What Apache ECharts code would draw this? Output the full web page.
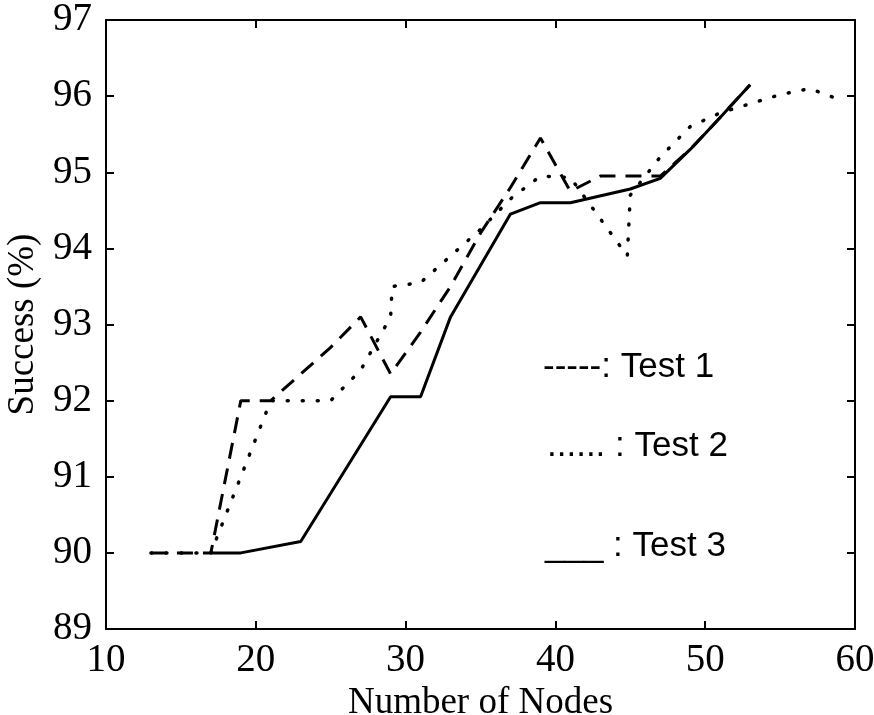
<!DOCTYPE html>
<html>
<head>
<meta charset="utf-8">
<script src="https://cdn.jsdelivr.net/npm/echarts@6/dist/echarts.min.js"></script>
<style>html,body{margin:0;padding:0;background:#fff;}#c{width:874px;height:715px;}</style>
</head>
<body>
<div id="c"></div>
<script>
const xTicks = [10, 20, 30, 40, 50, 60];
const yTicks = [89, 90, 91, 92, 93, 94, 95, 96, 97];
const test1 = [[13,90],[15,90],[17,90],[19,92],[21,92],[23,92.35],[25,92.7],[27,93.1],[29,92.35],[31,92.9],[33,93.5],[35,94.2],[37,94.8],[39,95.45],[41,94.75],[43,94.95],[45,94.95],[47,94.95],[49,95.3],[51,95.72],[53,96.15]];
const test2 = [[13,90],[15,90],[17,90],[19,91],[21,92],[23,92],[25,92],[27,92.4],[29,93.1],[29.1,93.5],[31,93.55],[33,93.9],[35,94.25],[37,94.65],[39,94.95],[41,94.93],[44.8,93.9],[45,94.7],[47,95.2],[49,95.6],[51,95.78],[53,95.9],[55,96.02],[57,96.1],[59,95.95]];
const test3 = [[17,90],[19,90],[23,90.15],[29,92.05],[31,92.05],[33,93.1],[37,94.45],[39,94.6],[41,94.6],[45,94.78],[47,94.92],[49,95.3],[51,95.72],[53,96.15]];
const legendTexts = ['-----: Test 1', '...... : Test 2', '___ : Test 3'];

const chart = echarts.init(document.getElementById('c'));
const serif = 'Liberation Serif';
const axisCommon = {
  type: 'value',
  axisLine: { show: true, lineStyle: { color: '#000', width: 2 } },
  axisTick: { show: true, inside: true, length: 8, lineStyle: { color: '#000', width: 2 } },
  splitLine: { show: false }
};
chart.setOption({
  backgroundColor: '#fff',
  animation: false,
  grid: { left: 106, right: 19, top: 20, bottom: 86, outerBoundsMode: 'none', containLabel: false },
  xAxis: [
    Object.assign({}, axisCommon, {
      min: xTicks[0], max: xTicks[xTicks.length - 1], interval: 10, position: 'bottom',
      name: 'Number of Nodes', nameLocation: 'middle', nameGap: 50,
      nameTextStyle: { fontFamily: serif, fontSize: 37, color: '#000' },
      axisLabel: { fontFamily: serif, fontSize: 39, color: '#000', margin: 12 }
    }),
    Object.assign({}, axisCommon, {
      min: xTicks[0], max: xTicks[xTicks.length - 1], interval: 10, position: 'top',
      axisLabel: { show: false }
    })
  ],
  yAxis: [
    Object.assign({}, axisCommon, {
      min: yTicks[0], max: yTicks[yTicks.length - 1], interval: 1, position: 'left',
      name: 'Success (%)', nameLocation: 'middle', nameGap: 53,
      nameTextStyle: { fontFamily: serif, fontSize: 37, color: '#000' },
      axisLabel: { fontFamily: serif, fontSize: 39, color: '#000', margin: 14 }
    }),
    Object.assign({}, axisCommon, {
      min: yTicks[0], max: yTicks[yTicks.length - 1], interval: 1, position: 'right',
      axisLabel: { show: false }
    })
  ],
  series: [
    { name: 'Test 1', type: 'line', data: test1, symbol: 'none', z: 3,
      lineStyle: { color: '#000', width: 3, type: [16, 10] } },
    { name: 'Test 2', type: 'line', data: test2, symbol: 'none', z: 3,
      lineStyle: { color: '#000', width: 3.5, type: [1, 14], cap: 'round' } },
    { name: 'Test 3', type: 'line', data: test3, symbol: 'none', z: 4,
      lineStyle: { color: '#000', width: 3 } }
  ],
  graphic: [
    { type: 'text', left: 543, top: 350, style: { text: legendTexts[0], fontFamily: 'Liberation Sans', fontSize: 35, fill: '#000' } },
    { type: 'text', left: 547, top: 429, style: { text: legendTexts[1], fontFamily: 'Liberation Sans', fontSize: 35, fill: '#000' } },
    { type: 'text', left: 545, top: 529, style: { text: legendTexts[2], fontFamily: 'Liberation Sans', fontSize: 35, fill: '#000' } }
  ]
});
</script>
</body>
</html>
